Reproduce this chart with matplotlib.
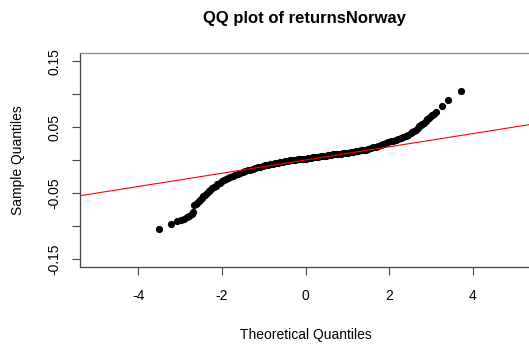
import matplotlib.pyplot as plt

plt.rcParams["font.family"] = ["Liberation Sans", "DejaVu Sans"]

# normal QQ points of the Norway returns (theoretical vs sample quantiles)
theo_q = [-3.52, -3.22, -3.07, -2.99, -2.92, -2.84, -2.78, -2.72, -2.70,
          -2.66, -2.63, -2.59, -2.555, -2.52, -2.485, -2.45, -2.405, -2.36,
          -2.32, -2.28, -2.24, -2.20, -2.155, -2.11, -2.055, -2.00, -1.95,
          -1.90, -1.85, -1.80, -1.74, -1.68, -1.62, -1.56, -1.50, -1.44,
          -1.38, -1.32, -1.26, -1.20, -1.14, -1.08, -1.02, -0.96, -0.90,
          -0.84, -0.78, -0.72, -0.66, -0.60, -0.54, -0.48, -0.42, -0.36,
          -0.30, -0.24, -0.18, -0.12, -0.06, 0.00, 0.06, 0.12, 0.18, 0.24,
          0.30, 0.36, 0.42, 0.48, 0.54, 0.60, 0.66, 0.72, 0.78, 0.84, 0.90,
          0.96, 1.02, 1.08, 1.14, 1.20, 1.26, 1.32, 1.38, 1.44, 1.50, 1.56,
          1.62, 1.68, 1.74, 1.80, 1.86, 1.92, 1.98, 2.04, 2.10, 2.16, 2.22,
          2.28, 2.34, 2.40, 2.46, 2.52, 2.56, 2.60, 2.645, 2.69, 2.725,
          2.76, 2.80, 2.84, 2.88, 2.92, 2.96, 3.00, 3.04, 3.07, 3.12, 3.26,
          3.42, 3.72]
sample_q = [-0.1033, -0.0957, -0.0912, -0.0901, -0.0886, -0.0865, -0.0836,
            -0.0810, -0.0784, -0.0681, -0.0662, -0.0643, -0.0620, -0.0597,
            -0.0570, -0.0544, -0.0520, -0.0495, -0.0470, -0.0445, -0.0424,
            -0.0404, -0.0383, -0.0362, -0.0340, -0.0319, -0.0302, -0.0286,
            -0.0272, -0.0258, -0.0241, -0.0225, -0.0210, -0.0195, -0.0181,
            -0.0167, -0.0154, -0.0141, -0.0130, -0.0119, -0.0107, -0.0096,
            -0.0086, -0.0076, -0.0067, -0.0059, -0.0051, -0.0044, -0.0036,
            -0.0029, -0.0022, -0.0015, -0.0009, -0.0003, 0.0003, 0.0008,
            0.0013, 0.0017, 0.0021, 0.0026, 0.0031, 0.0036, 0.0043, 0.0049,
            0.0054, 0.0059, 0.0065, 0.0071, 0.0077, 0.0082, 0.0088, 0.0093,
            0.0097, 0.0102, 0.0107, 0.0112, 0.0118, 0.0125, 0.0131, 0.0138,
            0.0144, 0.0150, 0.0156, 0.0163, 0.0173, 0.0184, 0.0196, 0.0208,
            0.0221, 0.0234, 0.0249, 0.0264, 0.0275, 0.0287, 0.0299, 0.0312,
            0.0324, 0.0337, 0.0350, 0.0365, 0.0388, 0.0413, 0.0428, 0.0444,
            0.0466, 0.0489, 0.0512, 0.0535, 0.0551, 0.0568, 0.0593, 0.0619,
            0.0644, 0.0669, 0.0686, 0.0702, 0.0725, 0.0821, 0.0912, 0.1044]

# qqline through the quartiles
line_intercept = 0.0004
line_slope = 0.0100

x_ticks = [-4, -2, 0, 2, 4]
x_labels = ["-4", "-2", "0", "2", "4"]
y_ticks = [-0.15, -0.10, -0.05, 0.00, 0.05, 0.10, 0.15]
y_labels = ["-0.15", "", "-0.05", "", "0.05", "", "0.15"]

fig = plt.figure(figsize=(5.29, 3.45), dpi=100)
ax = fig.add_axes([80 / 529, (345 - 267.3) / 345, (531 - 80) / 529, 214 / 345])

ax.plot(theo_q, sample_q, "o", color="black", ms=5.2, mew=0)
ax.axline((0, line_intercept), slope=line_slope, color="red", lw=0.8)

ax.set_xlim(-5.4, 5.4)
ax.set_ylim(-0.162, 0.162)
ax.set_xticks(x_ticks, labels=x_labels)
ax.set_yticks(y_ticks, labels=y_labels, rotation=90, va="center")
ax.tick_params(direction="out", length=5.5, width=0.8, color="#444444",
               labelsize=10, pad=8)
ax.tick_params(axis="x", pad=10)

for side in ["left", "bottom"]:
    ax.spines[side].set_color("#444444")
    ax.spines[side].set_linewidth(0.9)
ax.spines["top"].set_color("#888888")
ax.spines["top"].set_linewidth(0.9)

ax.set_xlabel("Theoretical Quantiles", fontsize=10, labelpad=18)
ax.set_ylabel("Sample Quantiles", fontsize=10, labelpad=16)
fig.text(304 / 529, 1 - 18 / 345, "QQ plot of returnsNorway", ha="center",
         va="center", fontsize=12, fontweight="bold")

fig.savefig("out.png", dpi=100)
